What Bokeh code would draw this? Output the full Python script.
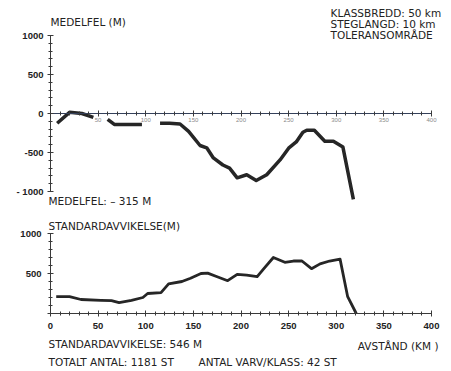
import numpy as np
from bokeh.plotting import figure
from bokeh.models import Range1d, LinearAxis, FixedTicker, Label
from bokeh.embed import file_html
from bokeh.resources import INLINE

# ---------------- data ----------------
# mean error (m) along distance (km); NaN marks gaps in the curve
err_km = [7, 20, 33, 45, np.nan,
          60, 67, 80, 96, np.nan,
          115, 125, 136, 145, 157, 164, 171, 181, 188, 196, 206, 216, 227,
          241, 250, 258, 265, 269, 277, 288, 297, 307, 318]
err_m = [-125, 15, 0, -50, np.nan,
         -75, -140, -140, -140, np.nan,
         -125, -125, -135, -230, -410, -440, -570, -660, -700, -825, -785, -860, -785,
         -595, -445, -365, -240, -215, -215, -355, -355, -430, -1100]

# standard deviation (m) along distance (km)
sd_km = [6, 20, 32, 53, 64, 72, 85, 97, 102, 116, 124, 138, 147, 158, 165, 175,
         186, 196, 206, 217, 224, 234, 246, 255, 264, 274, 283, 293, 304, 312, 321]
sd_m = [212, 212, 175, 165, 160, 135, 165, 200, 250, 260, 370, 400, 440, 500, 505, 460,
        410, 490, 480, 460, 560, 700, 640, 656, 656, 560, 620, 656, 680, 210, 0]

top_y_ticks = [-1000, -500, 0, 500, 1000]
top_y_labels = {-1000: "- 1000", -500: "-500", 0: "0", 500: "500", 1000: "1000"}
top_x_ticks = [50, 100, 150, 200, 250, 300, 350, 400]
bot_x_ticks = [0, 50, 100, 150, 200, 250, 300, 350, 400]
bot_y_ticks = [0, 500, 1000]
bot_y_labels = {0: "", 500: "500", 1000: "1000"}

# ---------------- layout (page pixel anchors) ----------------
W, H = 450, 370
OX, OY = 0, 0                    # figure origin on the page
XA_PAGE, XB_PAGE = 50.0, 431.0   # page x of km 0 and km 400
T0_PAGE, T1_PAGE = 113.0, 35.0   # page y of 0 m and 1000 m (upper panel)
B0_PAGE, B1_PAGE = 313.0, 233.0  # page y of 0 m and 1000 m (lower panel)

sx = (XB_PAGE - XA_PAGE) / 400.0
st = (T0_PAGE - T1_PAGE) / 1000.0
sb = (B0_PAGE - B1_PAGE) / 1000.0

def kx(page_x):
    return (page_x - XA_PAGE) / sx

def ty(page_y):
    return (T0_PAGE - page_y) / st

x_range = Range1d(kx(OX), kx(OX + W))
y_range = Range1d(ty(OY + H), ty(OY))
sd_range = Range1d((B0_PAGE - (OY + H)) / sb, (B0_PAGE - OY) / sb)

p = figure(width=W, height=H, x_range=x_range, y_range=y_range,
           output_backend="svg", toolbar_location=None,
           x_axis_type=None, y_axis_type=None,
           min_border=0, min_border_left=0, min_border_right=0,
           min_border_top=0, min_border_bottom=0)
p.extra_y_ranges = {"sd": sd_range}
p.outline_line_color = None
p.xgrid.visible = False
p.ygrid.visible = False
p.background_fill_color = "white"
p.border_fill_color = "white"

FONT = "DejaVu Sans"
NUMFONT = "Liberation Sans"
INK = "#222222"
AXC = "#3a3a3a"

def style_axis(ax):
    ax.axis_line_color = AXC
    ax.axis_line_width = 1
    ax.major_tick_line_color = AXC
    ax.minor_tick_line_color = AXC
    ax.major_tick_in = 3
    ax.major_tick_out = 3
    ax.minor_tick_in = 2
    ax.minor_tick_out = 2
    ax.major_label_text_color = INK
    ax.major_label_text_font = NUMFONT
    ax.major_label_text_font_style = "bold"
    ax.major_label_text_font_size = "9.5px"

# upper panel axes
ty_axis = LinearAxis(ticker=FixedTicker(ticks=top_y_ticks,
                                        minor_ticks=list(range(-1000, 1001, 100))),
                     major_label_overrides=top_y_labels, bounds=(-1000, 1000),
                     fixed_location=0)
style_axis(ty_axis)
ty_axis.major_label_standoff = 4
p.add_layout(ty_axis, "left")

tx_axis = LinearAxis(ticker=FixedTicker(ticks=top_x_ticks,
                                        minor_ticks=list(range(0, 401, 10))),
                     bounds=(0, 400), fixed_location=0)
style_axis(tx_axis)
tx_axis.major_label_text_font_size = "6px"
tx_axis.major_label_text_font_style = "normal"
tx_axis.major_label_text_color = "#8a8a8a"
tx_axis.major_label_standoff = 1
tx_axis.axis_line_color = "#34405a"
p.add_layout(tx_axis, "below")

# lower panel axes
by_axis = LinearAxis(y_range_name="sd",
                     ticker=FixedTicker(ticks=bot_y_ticks,
                                        minor_ticks=list(range(0, 1001, 100))),
                     major_label_overrides=bot_y_labels, bounds=(0, 1000),
                     fixed_location=0)
style_axis(by_axis)
by_axis.major_label_standoff = 6
p.add_layout(by_axis, "left")

bx_axis = LinearAxis(y_range_name="sd",
                     ticker=FixedTicker(ticks=bot_x_ticks,
                                        minor_ticks=list(range(0, 401, 10))),
                     bounds=(0, 400), fixed_location=0)
style_axis(bx_axis)
bx_axis.major_label_standoff = 6
p.add_layout(bx_axis, "below")

# curves
p.line(err_km, err_m, line_color="#262626", line_width=3.5, line_join="round")
p.line(sd_km, sd_m, line_color="#262626", line_width=2.8, line_join="round",
       y_range_name="sd")

# texts
def lab(text, page_x, page_y, align="left", size="10.5px"):
    p.add_layout(Label(x=kx(page_x), y=ty(page_y), text=text, text_font=FONT,
                       text_font_size=size, text_color=INK, text_align=align,
                       text_baseline="middle"))

lab("MEDELFEL (M)", 50, 21)
lab("KLASSBREDD: 50 km", 330, 12)
lab("STEGLANGD: 10 km", 330, 23)
lab("TOLERANSOMRÅDE", 330, 34)
lab("MEDELFEL: – 315 M", 48, 200)
lab("STANDARDAVVIKELSE(M)", 48, 225)
lab("STANDARDAVVIKELSE: 546 M", 48, 343)
lab("AVSTÅND (KM )", 438, 345, align="right")
lab("TOTALT ANTAL: 1181 ST", 48, 361)
lab("ANTAL VARV/KLASS: 42 ST", 198, 361)

open("out.html", "w").write(file_html(p, INLINE))
